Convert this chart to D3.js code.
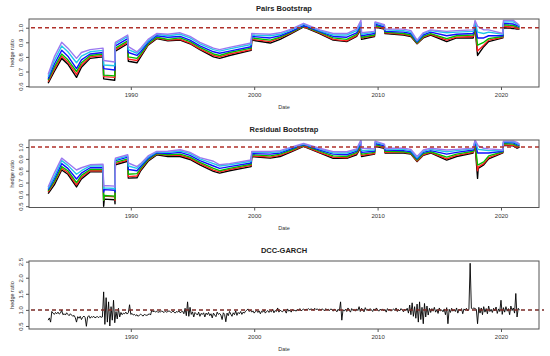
<!DOCTYPE html>
<html>
<head>
<meta charset="utf-8">
<script src="https://cdn.jsdelivr.net/npm/d3@7"></script>
<style>
  body { margin: 0; background: #fff; }
  svg text { font-family: "Liberation Sans", Arial, sans-serif; }
</style>
</head>
<body>
<div id="chart"></div>
<script>
// x tick labels (years)
var yearTicks = [1990, 2000, 2010, 2020];
var lineColors = ["#000000", "#ff2020", "#00c000", "#1010ff", "#20c8e8", "#9a78f0"];

// ---- Pairs Bootstrap quantile lines ----
var pairsYears = [1983.3, 1983.8, 1984.4, 1984.9, 1985.6, 1986.0, 1986.7, 1987.75, 1987.8, 1988.7,
  1988.75, 1989.75, 1989.8, 1990.5, 1990.8, 1991.4, 1992.1, 1993.0, 1994.0, 1994.8,
  1995.6, 1996.7, 1997.2, 1998.0, 1999.75, 1999.8, 2001.3, 2002.1, 2003.0, 2004.0,
  2005.3, 2006.4, 2007.5, 2008.3, 2008.65, 2008.7, 2009.75, 2009.8, 2010.55, 2010.6,
  2012.1, 2012.7, 2013.2, 2013.7, 2014.3, 2015.6, 2016.4, 2017.75, 2017.9, 2018.1,
  2018.6, 2019.0, 2020.15, 2020.2, 2021.0, 2021.3, 2021.5];
var pairsBlack = [0.62,0.70,0.79,0.75,0.66,0.73,0.79,0.80,0.65,0.64,0.84,0.89,0.77,0.76,0.80,0.88,0.925,0.91,0.915,0.89,0.85,0.80,0.79,0.81,0.845,0.915,0.895,0.92,0.96,1.005,0.96,0.915,0.905,0.94,0.99,0.92,0.94,1.005,0.99,0.96,0.95,0.94,0.89,0.93,0.95,0.905,0.93,0.93,1.0,0.81,0.87,0.905,0.93,1.0,0.995,0.99,0.99];
var pairsRed = [0.63,0.715,0.805,0.765,0.68,0.745,0.80,0.81,0.665,0.66,0.85,0.90,0.785,0.775,0.81,0.885,0.93,0.915,0.92,0.895,0.855,0.81,0.80,0.82,0.85,0.92,0.905,0.93,0.965,1.01,0.965,0.92,0.91,0.945,1.0,0.93,0.945,1.01,0.995,0.965,0.955,0.945,0.893,0.935,0.955,0.915,0.935,0.94,1.01,0.84,0.88,0.915,0.935,1.01,1.005,0.995,0.995];
var pairsGreen = [0.64,0.73,0.82,0.78,0.70,0.76,0.81,0.82,0.675,0.67,0.86,0.91,0.80,0.79,0.82,0.89,0.935,0.92,0.93,0.905,0.865,0.82,0.81,0.83,0.86,0.93,0.915,0.935,0.97,1.01,0.97,0.93,0.92,0.955,1.01,0.935,0.95,1.015,1.0,0.97,0.96,0.95,0.897,0.94,0.96,0.925,0.945,0.95,1.02,0.88,0.90,0.925,0.94,1.02,1.015,1.005,1.0];
var pairsBlue = [0.65,0.75,0.845,0.805,0.72,0.78,0.82,0.83,0.72,0.71,0.875,0.925,0.83,0.81,0.835,0.90,0.945,0.935,0.94,0.915,0.875,0.835,0.825,0.84,0.87,0.94,0.93,0.945,0.975,1.015,0.975,0.94,0.935,0.965,1.02,0.945,0.96,1.025,1.005,0.975,0.97,0.96,0.903,0.95,0.97,0.945,0.955,0.96,1.03,0.93,0.93,0.945,0.945,1.03,1.025,1.015,1.005];
var pairsCyan = [0.665,0.775,0.875,0.835,0.76,0.805,0.835,0.845,0.745,0.74,0.89,0.94,0.85,0.825,0.85,0.91,0.955,0.945,0.955,0.93,0.89,0.85,0.84,0.855,0.885,0.95,0.945,0.955,0.985,1.025,0.98,0.95,0.95,0.98,1.035,0.955,0.97,1.035,1.015,0.985,0.98,0.97,0.91,0.96,0.98,0.965,0.97,0.975,1.04,0.97,0.96,0.97,0.955,1.04,1.04,1.025,1.01];
var pairsPurple = [0.68,0.80,0.90,0.86,0.79,0.83,0.85,0.86,0.775,0.765,0.90,0.95,0.87,0.835,0.86,0.92,0.96,0.955,0.965,0.94,0.90,0.86,0.85,0.865,0.895,0.96,0.955,0.965,0.99,1.03,0.985,0.96,0.96,0.99,1.05,0.965,0.975,1.04,1.02,0.99,0.99,0.98,0.915,0.965,0.985,0.975,0.98,0.985,1.05,1.01,0.985,0.985,0.96,1.05,1.05,1.03,1.015];
var pairsTicks = [0.6, 0.7, 0.8, 0.9, 1.0];

// ---- Residual Bootstrap quantile lines ----
var residYears = [1983.3, 1983.8, 1984.4, 1984.9, 1985.6, 1986.0, 1986.7, 1987.75, 1987.8, 1987.85,
  1988.7, 1988.72, 1988.75, 1989.75, 1989.8, 1990.5, 1990.8, 1991.4, 1992.1, 1993.0,
  1994.0, 1994.8, 1995.6, 1996.7, 1997.2, 1998.0, 1999.75, 1999.8, 2001.3, 2002.1,
  2003.0, 2004.0, 2005.3, 2006.4, 2007.5, 2008.3, 2008.65, 2008.7, 2009.75, 2009.8,
  2010.55, 2010.6, 2012.1, 2012.7, 2013.2, 2013.7, 2014.3, 2015.6, 2016.4, 2017.75,
  2017.9, 2018.1, 2018.15, 2018.6, 2019.0, 2020.15, 2020.2, 2021.0, 2021.3, 2021.5];
var residBlack = [0.607,0.68,0.806,0.77,0.663,0.73,0.79,0.79,0.50,0.56,0.555,0.52,0.85,0.88,0.737,0.74,0.80,0.88,0.934,0.92,0.92,0.895,0.85,0.795,0.78,0.80,0.835,0.92,0.906,0.92,0.96,1.006,0.95,0.905,0.905,0.935,1.0,0.92,0.94,1.006,0.99,0.95,0.95,0.94,0.877,0.93,0.95,0.89,0.92,0.95,1.02,0.735,0.82,0.85,0.90,0.95,1.015,1.01,0.99,1.0];
var residRed = [0.62,0.70,0.82,0.785,0.68,0.745,0.80,0.80,0.55,0.585,0.58,0.55,0.86,0.89,0.75,0.755,0.81,0.89,0.94,0.93,0.93,0.905,0.86,0.805,0.79,0.81,0.845,0.925,0.915,0.93,0.965,1.01,0.955,0.915,0.91,0.945,1.01,0.93,0.945,1.012,0.995,0.955,0.955,0.945,0.882,0.935,0.955,0.90,0.93,0.955,1.025,0.80,0.83,0.86,0.91,0.955,1.02,1.015,1.0,1.005];
var residGreen = [0.63,0.71,0.835,0.80,0.70,0.76,0.81,0.81,0.55,0.59,0.585,0.56,0.87,0.90,0.77,0.775,0.82,0.895,0.945,0.935,0.94,0.915,0.87,0.82,0.80,0.82,0.855,0.935,0.925,0.94,0.975,1.015,0.965,0.925,0.92,0.955,1.02,0.94,0.955,1.02,1.0,0.965,0.96,0.95,0.89,0.945,0.96,0.915,0.94,0.965,1.035,0.85,0.85,0.875,0.925,0.96,1.03,1.025,1.01,1.01];
var residBlue = [0.64,0.73,0.86,0.82,0.73,0.78,0.825,0.825,0.62,0.64,0.635,0.62,0.885,0.915,0.81,0.80,0.835,0.905,0.952,0.945,0.955,0.93,0.885,0.84,0.82,0.835,0.865,0.945,0.94,0.95,0.985,1.02,0.975,0.94,0.935,0.965,1.035,0.955,0.965,1.03,1.01,0.975,0.97,0.96,0.90,0.955,0.97,0.94,0.955,0.975,1.045,0.95,0.95,0.95,0.95,0.965,1.04,1.035,1.02,1.015];
var residCyan = [0.65,0.75,0.885,0.845,0.77,0.80,0.84,0.84,0.65,0.655,0.65,0.64,0.895,0.925,0.84,0.82,0.85,0.915,0.958,0.955,0.967,0.945,0.90,0.86,0.84,0.85,0.88,0.955,0.955,0.96,0.995,1.025,0.985,0.95,0.95,0.975,1.05,0.97,0.975,1.04,1.02,0.985,0.98,0.97,0.91,0.965,0.98,0.96,0.97,0.985,1.055,0.99,0.98,0.975,0.97,0.97,1.045,1.045,1.03,1.02];
var residPurple = [0.663,0.78,0.906,0.865,0.806,0.825,0.85,0.855,0.67,0.675,0.67,0.66,0.906,0.935,0.865,0.835,0.86,0.925,0.963,0.965,0.977,0.955,0.91,0.88,0.85,0.86,0.89,0.963,0.963,0.97,1.0,1.03,0.99,0.96,0.96,0.985,1.06,0.99,0.985,1.05,1.025,0.99,0.99,0.98,0.92,0.975,0.99,0.975,0.98,0.99,1.06,1.02,1.01,0.99,0.985,0.975,1.05,1.05,1.04,1.025];
var residTicks = [0.5, 0.6, 0.7, 0.8, 0.9, 1.0];

// ---- DCC-GARCH hedge ratio, sampled every 0.1 year from 1983.3 ----
var dccStart = 1983.3, dccStep = 0.1;
var dccValues = [
  0.68,0.75,0.62,0.95,0.90,0.86,0.92,0.88,0.93,0.87,
  0.90,0.99,0.85,0.88,0.84,0.91,0.86,0.82,0.88,0.84,
  0.80,0.83,0.76,0.62,0.79,0.74,0.80,0.70,0.77,0.81,
  0.76,0.49,0.78,0.82,0.74,0.79,0.77,0.80,0.75,0.78,
  0.79,0.76,0.80,0.77,0.78,1.56,0.55,1.38,0.62,1.25,
  0.50,1.10,0.68,1.30,0.60,0.95,0.72,1.05,0.78,0.92,
  0.85,0.90,0.88,0.93,0.87,0.91,1.16,0.86,0.89,0.84,
  0.86,0.82,0.85,0.80,0.84,0.87,0.83,0.81,0.86,0.84,
  0.83,0.85,0.88,0.84,0.99,0.94,0.97,0.93,0.96,0.92,
  0.95,0.93,0.97,0.94,0.92,0.96,0.93,0.95,0.97,0.94,
  0.92,0.96,0.94,0.90,0.95,0.93,0.97,0.91,0.94,0.96,
  0.88,1.05,0.82,1.25,0.80,1.08,0.86,0.94,0.78,0.92,
  0.88,0.84,0.93,0.80,0.89,0.86,0.91,0.78,0.90,0.85,
  0.92,0.82,0.88,0.75,0.90,0.84,0.79,0.93,0.86,0.89,
  0.84,0.70,0.91,0.86,0.63,0.90,0.82,0.95,0.87,0.80,
  0.91,0.85,0.97,0.83,0.92,0.88,0.95,0.86,0.93,0.90,
  0.96,0.99,1.03,0.95,0.99,0.93,0.97,0.90,0.95,0.98,
  0.92,0.97,0.88,0.96,0.93,1.00,0.90,0.95,0.98,0.92,
  0.97,0.94,1.02,0.91,0.98,0.95,1.06,0.93,0.99,0.96,
  0.94,1.00,0.97,0.90,1.03,0.96,0.99,0.93,1.01,0.97,
  0.99,0.96,1.02,0.98,1.04,0.97,1.00,1.03,0.99,1.02,
  1.01,1.04,1.00,1.03,1.02,0.99,1.05,1.01,1.03,1.00,
  1.02,1.00,1.03,1.01,0.97,1.04,1.00,1.02,0.98,1.03,
  1.01,0.96,1.03,0.99,0.94,1.02,0.97,1.25,0.68,1.00,
  0.97,1.02,0.95,1.06,0.99,0.93,1.04,0.98,1.01,0.96,
  1.03,0.98,1.10,0.95,1.05,1.00,0.94,1.07,0.99,1.02,
  0.97,1.04,1.00,0.95,1.03,0.98,1.06,1.00,0.96,1.02,
  0.99,1.03,0.97,1.01,0.93,1.04,0.99,1.02,0.96,1.00,
  1.03,0.98,1.06,0.95,1.01,0.97,1.04,0.99,0.94,1.02,
  0.98,1.05,0.90,1.15,0.85,1.22,0.80,1.10,0.74,1.18,
  0.62,1.25,0.70,1.08,0.57,1.20,0.78,1.12,0.84,1.05,
  0.92,1.04,0.96,1.08,0.93,1.01,0.89,1.06,0.97,1.00,
  0.94,1.03,0.85,1.07,0.57,1.02,0.92,1.05,0.96,1.01,
  0.95,1.06,0.90,1.02,0.97,1.04,0.88,1.03,0.99,1.05,
  0.97,1.02,2.45,1.05,1.03,1.06,1.04,1.02,0.57,1.08,
  0.90,1.06,0.85,1.10,0.93,1.04,0.88,1.12,0.95,1.02,
  0.92,1.05,0.97,1.09,0.89,1.03,0.95,1.30,0.86,1.07,
  0.93,1.10,0.96,1.04,0.85,1.12,0.98,1.06,0.90,1.51,
  0.78,1.05,0.99];
var dccTicks = [0.5, 1.0, 1.5, 2.0, 2.5];

var width = 550, height = 356;
var left = 29, right = 539;

var svg = d3.select("#chart").append("svg")
    .attr("width", width)
    .attr("height", height);
svg.append("rect").attr("width", width).attr("height", height).attr("fill", "#fff");

var x = d3.scaleLinear().domain([1981.75, 2023.08]).range([left, right]);

function drawPanel(opt) {
    var y = d3.scaleLinear().domain(opt.yDomain).range([opt.bottom, opt.top]);
    var g = svg.append("g");

    var clipId = "clip" + opt.id;
    svg.append("clipPath").attr("id", clipId)
        .append("rect")
        .attr("x", left).attr("y", opt.top)
        .attr("width", right - left).attr("height", opt.bottom - opt.top);

    var plot = g.append("g").attr("clip-path", "url(#" + clipId + ")");

    var line = d3.line()
        .x(function (d) { return x(d[0]); })
        .y(function (d) { return y(d[1]); });

    opt.series.forEach(function (s) {
        plot.append("path")
            .datum(s.values.map(function (v, i) { return [s.years[i], v]; }))
            .attr("d", line)
            .attr("fill", "none")
            .attr("stroke", s.color)
            .attr("stroke-width", s.width)
            .attr("stroke-linejoin", "round");
    });

    // reference line at 1
    g.append("line")
        .attr("x1", left + 2).attr("x2", opt.dashEnd)
        .attr("y1", y(1)).attr("y2", y(1))
        .attr("stroke", opt.dashColor)
        .attr("stroke-width", 1.5)
        .attr("stroke-dasharray", "4,3");

    // box
    g.append("rect")
        .attr("x", left).attr("y", opt.top)
        .attr("width", right - left).attr("height", opt.bottom - opt.top)
        .attr("fill", "none")
        .attr("stroke", "#555")
        .attr("stroke-width", 1);

    var xa = g.append("g")
        .attr("transform", "translate(0," + opt.bottom + ")")
        .call(d3.axisBottom(x).tickValues(yearTicks).tickFormat(d3.format("d")).tickSize(3).tickPadding(3));
    xa.select(".domain").remove();
    xa.selectAll("line").attr("stroke", "#555");
    xa.selectAll("text").attr("font-size", 6).attr("fill", "#333");

    var ya = g.append("g")
        .attr("transform", "translate(" + left + ",0)")
        .call(d3.axisLeft(y).tickValues(opt.ticks).tickFormat(d3.format(".1f")).tickSize(3));
    ya.select(".domain").remove();
    ya.selectAll("line").attr("stroke", "#555");
    ya.selectAll("text")
        .attr("font-size", 6).attr("fill", "#333")
        .attr("transform", "rotate(-90)")
        .attr("x", 0).attr("y", -6).attr("dy", 0)
        .attr("text-anchor", "middle");

    svg.append("text")
        .attr("x", (left + right) / 2).attr("y", opt.top - 8)
        .attr("text-anchor", "middle")
        .attr("font-size", 7.5).attr("font-weight", "bold").attr("fill", "#222")
        .text(opt.title);

    svg.append("text")
        .attr("x", (left + right) / 2).attr("y", opt.bottom + 22)
        .attr("text-anchor", "middle")
        .attr("font-size", 5.5).attr("fill", "#333")
        .text("Date");

    svg.append("text")
        .attr("transform", "translate(14," + (opt.top + opt.bottom) / 2 + ") rotate(-90)")
        .attr("text-anchor", "middle")
        .attr("font-size", 5.5).attr("fill", "#333")
        .text("hedge ratio");
}

function bands(years, arrays) {
    return arrays.map(function (a, i) {
        return {years: years, values: a, color: lineColors[i], width: 1.4};
    });
}

drawPanel({
    id: 1, title: "Pairs Bootstrap", top: 19, bottom: 87,
    yDomain: [0.594, 1.0596], ticks: pairsTicks, dashEnd: right, dashColor: "#b0302a",
    series: bands(pairsYears, [pairsBlack, pairsRed, pairsGreen, pairsBlue, pairsCyan, pairsPurple])
});

drawPanel({
    id: 2, title: "Residual Bootstrap", top: 140, bottom: 207.5,
    yDomain: [0.489, 1.0596], ticks: residTicks, dashEnd: right, dashColor: "#b0302a",
    series: bands(residYears, [residBlack, residRed, residGreen, residBlue, residCyan, residPurple])
});

var dccYears = dccValues.map(function (v, i) { return dccStart + i * dccStep; });
drawPanel({
    id: 3, title: "DCC-GARCH", top: 261, bottom: 329,
    yDomain: [0.406, 2.52], ticks: dccTicks, dashEnd: 544, dashColor: "#7a2a26",
    series: [{years: dccYears, values: dccValues, color: "#000", width: 0.9}]
});
</script>
</body>
</html>
